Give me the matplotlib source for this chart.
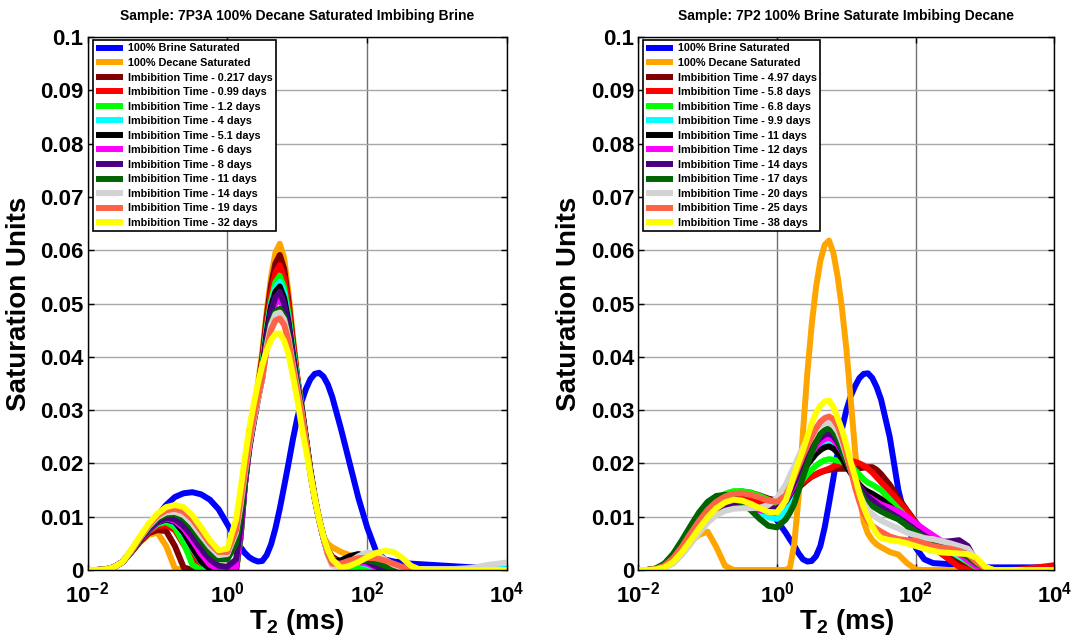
import numpy as np
import matplotlib
matplotlib.use('Agg')
import matplotlib.pyplot as plt

plt.rcParams['font.family'] = ['Liberation Sans', 'DejaVu Sans']
plt.rcParams['font.weight'] = 'bold'
plt.rcParams['mathtext.fontset'] = 'custom'
plt.rcParams['mathtext.rm'] = 'Liberation Sans:bold'
plt.rcParams['mathtext.bf'] = 'Liberation Sans:bold'

# ── T2 grid (log10 ms): finer around the main peaks ──
LOG_T2 = np.concatenate([np.arange(-2, 0.001, 0.125),
                         np.arange(0.125, 1.49, 0.0625),
                         np.arange(1.5, 4.001, 0.125)])

# values below are in 1e-3 saturation units, one per LOG_T2 point
# ── Sample 7P3A : decane saturated, imbibing brine ──
L_BRINE = [0, 0, 0.1, 0.5, 1.5, 3.4, 5.8, 8.0, 10.2, 12.2, 13.7, 14.4, 14.6, 14.2, 13.2, 11.4, 8.6,
           5.7, 4.3, 3.2, 2.4, 1.9, 1.6, 1.7, 2.8, 4.8, 7.8, 11.5, 15.7, 20.0, 24.5, 28.5, 31.6,
           34.0, 35.8, 36.8, 37.0, 36.3, 34.8,
           32.5, 26.5, 20.0, 13.5, 8.0, 3.6, 2.0, 1.6, 1.4, 1.2, 1.1, 1.0, 0.9, 0.8, 0.7, 0.6,
           0.5, 0.5, 0.4, 0.4, 0.4]
L_DECANE = [0, 0, 0.1, 0.5, 1.5, 3.3, 5.2, 6.6, 7.0, 4.5, 0.3, 0, 0, 0, 0, 0, 0,
            0, 6, 16, 23, 28.5, 35, 41, 48.5, 55, 59.5, 61.2, 58.5, 52, 44, 36.5, 31,
            25, 19, 14, 9.5, 6.3, 4.9,
            4.3, 3.4, 2.8, 1.8, 0.8, 0.2, 0, 0, 0, 0, 0, 0, 0, 0, 0, 0, 0, 0, 0, 0, 0]
L_T1 = [0, 0, 0.1, 0.5, 1.5, 3.3, 5.3, 6.9, 7.5, 7.3, 4.5, 0.5, 0, 0, 0, 0, 0,
        0, 6, 16, 23, 28, 34, 40, 47.5, 53.5, 57.5, 59.1, 56.5, 50.5, 43, 36, 30.5,
        24.5, 18.5, 13.5, 9.5, 6.2, 3.8,
        2.5, 1.5, 1.0, 0.6, 0.2, 0, 0, 0, 0, 0, 0, 0, 0, 0, 0, 0, 0, 0, 0, 0, 0]
L_T2 = [0, 0, 0.1, 0.5, 1.5, 3.4, 5.5, 7.2, 8.2, 8.4, 7.5, 4.8, 2.2, 0.3, 0, 0, 0,
        0, 6, 16, 23, 28, 33.5, 39, 46.5, 52, 55.8, 57.2, 54.8, 49.5, 42.5, 36, 30.5,
        24.5, 18.5, 13.5, 9.5, 6.2, 3.6,
        2.2, 1.2, 1.0, 1.2, 1.0, 0.5, 0, 0, 0, 0, 0, 0, 0, 0, 0, 0, 0, 0, 0, 0, 0]
L_T3 = [0, 0, 0.1, 0.5, 1.5, 3.5, 5.6, 7.4, 8.6, 9.0, 8.0, 5.0, 1.0, 0, 0, 0, 0,
        0, 6, 16, 23, 28, 33, 38.5, 45.5, 50.5, 54, 55.2, 53, 48, 41.5, 35.5, 30.5,
        24.5, 18.5, 13.5, 9.5, 6.2, 3.5,
        2.0, 0.8, 0.6, 0.6, 0.3, 0, 0, 0, 0, 0, 0, 0, 0, 0, 0, 0, 0, 0, 0, 0, 0]
L_T4 = [0, 0, 0.1, 0.5, 1.5, 3.5, 5.6, 7.5, 8.8, 9.4, 8.8, 6.8, 4.0, 1.5, 0.1, 0, 0,
        0.3, 6.5, 16, 23, 28, 33, 38, 45, 50, 53, 54.1, 52, 47, 41, 35.5, 30.5,
        24.5, 18.5, 13.5, 9.5, 6.2, 3.3,
        1.8, 0.8, 1.2, 1.4, 1.0, 0.4, 0, 0, 0, 0, 0, 0, 0, 0, 0, 0, 0.2, 0.5, 0.8, 1.0, 1.2]
L_T5 = [0, 0, 0.1, 0.5, 1.5, 3.5, 5.6, 7.5, 8.9, 9.5, 9.0, 7.0, 4.2, 1.6, 0.2, 0, 0,
        0.3, 6.5, 16, 23, 28, 32.5, 37.5, 44.5, 49.5, 52.2, 53.2, 51, 46.5, 40.5, 35, 30.5,
        24.5, 18.5, 13.5, 9.5, 6.2, 3.2,
        1.6, 1.8, 2.6, 3.0, 2.5, 1.2, 0.3, 0, 0, 0, 0, 0, 0, 0, 0, 0, 0, 0, 0, 0, 0]
L_T6 = [0, 0, 0.1, 0.5, 1.5, 3.5, 5.7, 7.6, 9.0, 9.7, 9.2, 7.8, 5.5, 3.0, 1.0, 0.1, 0,
        0.5, 7, 16, 22.5, 27.5, 32, 36.5, 43, 47.5, 50, 50.8, 49, 45, 39.5, 34.5, 30,
        24.5, 18.5, 13.5, 9.5, 6.0, 3.0,
        1.0, 0.6, 1.0, 1.5, 1.2, 0.5, 0, 0, 0, 0, 0, 0, 0, 0, 0, 0, 0, 0, 0, 0, 0]
L_T7 = [0, 0, 0.1, 0.5, 1.5, 3.5, 5.7, 7.7, 9.1, 9.8, 9.5, 8.3, 6.3, 4.0, 2.0, 0.8, 0.6,
        2.0, 8, 16.5, 23, 28, 32.5, 37, 44, 48.5, 51.2, 52.2, 50, 46, 40, 34.5, 30,
        24.5, 18.5, 13.5, 9.5, 6.0, 3.2,
        1.5, 1.2, 1.6, 2.0, 1.6, 0.7, 0.1, 0, 0, 0, 0, 0, 0, 0, 0, 0, 0, 0, 0, 0, 0]
L_T8 = [0, 0, 0.1, 0.5, 1.5, 3.6, 5.9, 8.0, 9.6, 10.4, 10.5, 9.6, 7.8, 5.5, 3.3, 2.0, 2.0,
        5.0, 10, 17, 23, 27.5, 32, 36, 42, 46.5, 48.5, 49.0, 47.5, 44, 39, 34, 30,
        24.5, 18.5, 13.5, 9.5, 6.0, 3.0,
        1.2, 0.6, 1.0, 1.6, 1.8, 1.5, 0.8, 0.2, 0, 0, 0, 0, 0, 0, 0, 0, 0, 0, 0, 0, 0]
L_T9 = [0, 0, 0.1, 0.5, 1.5, 3.6, 6.0, 8.2, 9.9, 10.8, 10.9, 10.3, 8.7, 6.5, 4.4, 2.8, 3.0,
        7.0, 12, 18, 23.5, 28, 32, 36, 42, 46, 48, 48.3, 47, 43.5, 38.5, 34, 29.5,
        24, 18, 13.5, 9.5, 6.0, 2.8,
        0.8, 0.6, 1.5, 2.6, 3.3, 3.0, 2.0, 1.0, 0.4, 0.2, 0.2, 0.2, 0.2, 0.2, 0.2, 0.3,
        0.4, 0.7, 1.0, 1.2, 1.4]
L_T10 = [0, 0, 0.1, 0.5, 1.5, 3.7, 6.1, 8.4, 10.2, 11.2, 11.5, 11.0, 9.5, 7.3, 5.0, 3.4, 3.4,
         7.5, 13, 18.5, 24, 28.5, 32.5, 36, 41.5, 45, 46.8, 47.2, 46, 43, 38, 33.5, 29.5,
         24, 18, 13.5, 9.5, 6.2, 3.0,
         1.2, 1.2, 1.8, 2.2, 2.3, 2.2, 1.8, 1.2, 0.6, 0.1, 0, 0, 0, 0, 0, 0, 0, 0, 0, 0, 0]
L_T11 = [0, 0, 0.1, 0.5, 1.5, 3.8, 6.3, 8.7, 10.6, 11.8, 12.2, 11.8, 10.3, 8.0, 5.6, 3.7, 4.0,
         9.5, 15, 21, 26.5, 31, 35, 38.5, 41.2, 43.2, 44.3, 44.4, 43, 40.5, 36.5, 32, 27,
         22.5, 18, 13.5, 9.5, 6.3, 3.8,
         2.0, 0.4, 0.8, 1.5, 2.4, 3.2, 3.6, 3.4, 2.3, 0.8, 0.1, 0, 0, 0, 0, 0, 0, 0, 0, 0, 0]

# ── Sample 7P2 : brine saturated, imbibing decane ──
R_BRINE = [0, 0, 0.2, 0.8, 2.0, 3.8, 6.0, 8.3, 10.6, 12.5, 13.9, 14.6, 14.7, 14.2, 13.2, 11.8, 9.3,
           7.0, 5.7, 4.5, 3.1, 2.0, 1.6, 1.7, 2.6, 4.5, 8.0, 12.5, 17.2, 22.0, 26.5, 30.0, 32.6,
           34.5, 36.0, 36.8, 36.9, 36.0, 34.3,
           32.0, 25.0, 15.0, 8.5, 4.2, 2.0, 1.3, 1.2, 1.1, 1.0, 0.8, 0.6, 0.5, 0.5, 0.5, 0.5,
           0.5, 0.5, 0.5, 0.5, 0.5]
R_DECANE = [0, 0, 0.2, 0.8, 1.9, 3.5, 5.3, 6.6, 7.2, 4.3, 0.8, 0, 0, 0, 0, 0, 0,
            0, 0.5, 5, 14, 26, 37, 46, 53, 58, 61, 61.8, 59.5, 55, 49, 41.5, 32,
            22.5, 14.5, 9, 6.8, 5.6, 4.8,
            4.3, 3.4, 2.9, 1.3, 0.1, 0, 0, 0, 0, 0, 0, 0, 0, 0, 0, 0, 0, 0, 0, 0, 0]
R_T1 = [0, 0, 0.2, 0.8, 2.2, 4.2, 6.6, 9.0, 11.2, 12.9, 14.0, 14.6, 14.7, 14.5, 14.0, 13.4, 13.0,
        13.5, 14.1, 14.8, 15.5, 16.2, 16.9, 17.5, 17.9, 18.3, 18.6, 18.8, 18.9, 19.0, 19.0, 19.0, 19.0,
        19.0, 19.1, 19.2, 19.3, 19.3, 18.8,
        18.0, 16.0, 13.5, 11.2, 9.0, 7.0, 5.2, 3.7, 2.5, 1.3, 0.4, 0, 0, 0, 0, 0, 0, 0, 0, 0, 0]
R_T2 = [0, 0, 0.2, 0.9, 2.4, 4.5, 7.0, 9.4, 11.4, 12.8, 13.5, 13.7, 13.5, 13.0, 12.5, 12.2, 12.2,
        13.5, 14.2, 15.0, 15.8, 16.5, 17.1, 17.6, 18.0, 18.4, 18.7, 19.0, 19.4, 19.8, 20.1, 20.4, 20.5,
        20.3, 20.0, 19.6, 19.0, 18.3, 17.4,
        16.5, 14.8, 13.0, 11.0, 8.8, 6.5, 4.5, 3.0, 1.8, 0.6, 0.1, 0, 0, 0, 0, 0, 0.1, 0.3,
        0.5, 0.7, 0.9]
R_T3 = [0, 0, 0.2, 0.8, 2.2, 4.3, 6.8, 9.3, 11.5, 13.2, 14.3, 14.8, 14.8, 14.5, 13.9, 13.2, 12.6,
        13.2, 14.0, 15.0, 16.0, 17.0, 18.0, 18.8, 19.6, 20.2, 20.6, 20.8, 20.7, 20.5, 20.3, 20.0, 19.5,
        18.8, 17.9, 17.0, 16.4, 16.0, 15.5,
        15.0, 13.2, 11.5, 9.8, 8.2, 6.8, 5.5, 4.5, 3.5, 2.5, 1.5, 0.5, 0, 0, 0, 0, 0, 0, 0, 0, 0]
R_T4 = [0, 0, 0.2, 0.7, 2.0, 4.0, 6.4, 8.8, 10.8, 12.2, 13.0, 13.3, 13.0, 12.2, 11.0, 9.9, 9.6,
        11.0, 12.7, 14.5, 16.3, 18.0, 19.6, 21.0, 22.3, 23.2, 23.8, 24.0, 23.7, 23.0, 21.7, 20.0, 18.5,
        17.0, 15.8, 14.8, 14.2, 13.8, 13.3,
        12.8, 11.8, 10.6, 9.3, 8.0, 6.6, 5.4, 4.4, 3.5, 2.6, 1.8, 0.8, 0.2, 0, 0, 0, 0, 0, 0, 0, 0]
R_T5 = [0, 0, 0.2, 0.7, 2.0, 3.9, 6.2, 8.5, 10.4, 11.7, 12.4, 12.6, 12.4, 12.0, 11.5, 11.2, 11.4,
        12.8, 14.1, 15.5, 17.0, 18.5, 19.8, 20.8, 21.8, 22.5, 23.0, 23.2, 22.8, 22.0, 20.9, 19.5, 18.2,
        17.0, 16.0, 15.2, 14.7, 14.3, 13.8,
        13.3, 12.0, 10.6, 9.3, 8.2, 7.0, 5.8, 4.8, 4.0, 3.2, 2.4, 1.2, 0.3, 0, 0, 0, 0, 0, 0, 0, 0]
R_T6 = [0, 0, 0.1, 0.5, 1.6, 3.5, 5.8, 8.0, 9.8, 11.0, 11.7, 11.9, 11.8, 11.5, 11.2, 11.0, 11.2,
        13.0, 14.4, 16.0, 17.8, 19.5, 20.9, 22.0, 23.1, 24.0, 24.6, 24.8, 24.4, 23.5, 22.2, 20.5, 18.7,
        17.0, 15.6, 14.5, 13.8, 13.3, 12.8,
        12.3, 11.7, 11.0, 10.0, 8.8, 7.6, 6.5, 5.4, 4.2, 3.0, 1.8, 0.7, 0.1, 0, 0, 0, 0, 0, 0, 0, 0]
R_T7 = [0, 0, 0.1, 0.5, 1.6, 3.4, 5.7, 8.0, 9.9, 11.2, 12.0, 12.3, 12.3, 12.0, 11.7, 11.4, 11.5,
        13.2, 14.8, 16.5, 18.3, 20.0, 21.5, 22.8, 24.0, 24.8, 25.4, 25.6, 25.1, 24.0, 22.4, 20.5, 18.7,
        17.0, 15.6, 14.5, 13.7, 13.0, 12.4,
        11.8, 10.8, 9.8, 8.6, 7.5, 6.4, 5.6, 5.3, 5.4, 5.6, 4.5, 1.5, 0.2, 0, 0, 0, 0, 0, 0, 0, 0]
R_T8 = [0, 0, 0.3, 1.2, 3.0, 5.5, 8.2, 10.8, 12.8, 13.9, 14.1, 13.7, 12.6, 11.2, 9.6, 8.3, 8.0,
        9.5, 10.8, 12.5, 15.0, 17.5, 19.9, 22.0, 24.0, 25.5, 26.3, 26.6, 26.0, 24.5, 22.6, 20.5, 18.6,
        17.0, 15.1, 13.5, 12.6, 12.0, 11.5,
        11.0, 10.2, 9.5, 8.3, 7.2, 6.0, 5.0, 4.4, 4.0, 3.3, 2.5, 1.2, 0.4, 0, 0, 0, 0, 0, 0, 0, 0]
R_T9 = [0, 0, 0.1, 0.4, 1.2, 2.8, 4.8, 7.0, 8.9, 10.3, 11.1, 11.5, 11.6, 11.6, 11.7, 12.2, 13.5,
        16.0, 17.8, 19.5, 21.3, 23.0, 24.4, 25.5, 26.4, 27.0, 27.5, 27.6, 27.1, 26.0, 24.0, 21.5, 19.0,
        16.5, 14.3, 12.5, 11.3, 10.5, 9.8,
        9.3, 8.5, 7.8, 7.0, 6.5, 6.0, 5.8, 5.4, 5.0, 4.5, 4.0, 2.0, 0.5, 0, 0, 0, 0, 0, 0, 0, 0]
R_T10 = [0, 0, 0.2, 0.8, 2.2, 4.3, 6.8, 9.2, 11.3, 12.8, 13.8, 14.3, 14.4, 14.1, 13.6, 13.0, 12.8,
         14.0, 15.6, 17.5, 19.5, 21.5, 23.3, 25.0, 26.6, 27.8, 28.5, 28.8, 28.3, 27.0, 24.8, 22.0, 18.8,
         15.5, 12.8, 10.5, 9.2, 8.3, 7.7,
         7.2, 6.3, 5.8, 5.6, 5.5, 5.0, 4.5, 4.2, 4.0, 3.6, 3.0, 1.5, 0.3, 0, 0, 0, 0, 0, 0, 0, 0]
R_T11 = [0, 0, 0.1, 0.5, 1.5, 3.3, 5.5, 7.8, 9.9, 11.6, 12.7, 13.2, 13.0, 12.4, 11.6, 10.9, 10.8,
         13.0, 15.4, 18.0, 20.3, 22.5, 25.0, 27.5, 29.5, 30.8, 31.6, 31.8, 30.6, 28.5, 26.3, 23.5, 20.3,
         17.5, 14.4, 11.8, 9.8, 8.2, 6.8,
         6.0, 5.6, 5.4, 5.0, 4.5, 4.0, 3.6, 3.3, 3.2, 3.1, 3.0, 2.3, 0.6, 0, 0, 0, 0, 0, 0, 0, 0]

L_DAYS = ['0.217', '0.99', '1.2', '4', '5.1', '6', '8', '11', '14', '19', '32']
R_DAYS = ['4.97', '5.8', '6.8', '9.9', '11', '12', '14', '17', '20', '25', '38']

COLORS = ['#0000ff', '#ffa500', '#800000', '#ff0000', '#00ff00', '#00ffff', '#000000',
          '#ff00ff', '#4b0082', '#006400', '#d3d3d3', '#ff6347', '#ffff00']

left_series = [L_BRINE, L_DECANE, L_T1, L_T2, L_T3, L_T4, L_T5, L_T6, L_T7, L_T8, L_T9, L_T10, L_T11]
right_series = [R_BRINE, R_DECANE, R_T1, R_T2, R_T3, R_T4, R_T5, R_T6, R_T7, R_T8, R_T9, R_T10, R_T11]
for s in left_series + right_series:
    assert len(s) == len(LOG_T2), len(s)

panels = [
    ([0.0817, 0.1121, 0.3917, 0.8303], left_series, L_DAYS,
     'Sample: 7P3A 100% Decane Saturated Imbibing Brine', 0.013),
    ([0.5960, 0.1121, 0.3885, 0.8303], right_series, R_DAYS,
     'Sample: 7P2 100% Brine Saturate Imbibing Decane', 0.011),
]

fig = plt.figure(figsize=(10.71, 6.42), dpi=100, facecolor='white')
t2 = 10 ** LOG_T2

for rect, series, days, title, leg_x in panels:
    ax = fig.add_axes(rect)
    labels = ['100% Brine Saturated', '100% Decane Saturated'] + \
             [f'Imbibition Time - {d} days' for d in days]
    for vals, col, lab in zip(series, COLORS, labels):
        ax.plot(t2, np.array(vals) / 1000.0, color=col, lw=4.3, label=lab,
                solid_joinstyle='round', solid_capstyle='butt')

    ax.set_xscale('log')
    ax.set_xlim(1e-2, 1e4)
    ax.set_ylim(0, 0.1)
    ax.minorticks_off()
    ax.set_xticks([1e-2, 1e0, 1e2, 1e4])
    ax.set_xticklabels([r'$\mathbf{10^{-2}}$', r'$\mathbf{10^{0}}$',
                        r'$\mathbf{10^{2}}$', r'$\mathbf{10^{4}}$'])
    yt = np.arange(0, 0.1001, 0.01)
    ax.set_yticks(yt)
    ax.set_yticklabels(['0'] + [f'{v:.2f}'.rstrip('0') for v in yt[1:]])
    ax.tick_params(direction='in', top=True, right=True, length=4, width=1, labelsize=16)
    ax.tick_params(axis='x', pad=8)
    ax.tick_params(axis='y', pad=3)
    ax.xaxis.grid(True, color='#707070', lw=1, ls='-')
    ax.yaxis.grid(True, color='#a8a8a8', lw=1, ls='-')
    for sp in ax.spines.values():
        sp.set_linewidth(1)
        sp.set_color('black')

    ax.set_title(title, fontsize=10, fontweight='bold', pad=12)
    ax.set_xlabel(r'$\mathbf{T_2}$ (ms)', fontsize=20, fontweight='bold', labelpad=0)
    ax.set_ylabel('Saturation Units', fontsize=20, fontweight='bold', labelpad=6)

    leg = ax.legend(loc='upper left', bbox_to_anchor=(leg_x, 0.994), borderaxespad=0,
                    prop={'size': 7.8, 'weight': 'bold'}, handlelength=2.5,
                    handletextpad=0.4, labelspacing=0.42, borderpad=0.3,
                    fancybox=False, framealpha=1, edgecolor='black')
    leg.get_frame().set_linewidth(1.2)

fig.savefig('out.png', dpi=100, facecolor='white')
